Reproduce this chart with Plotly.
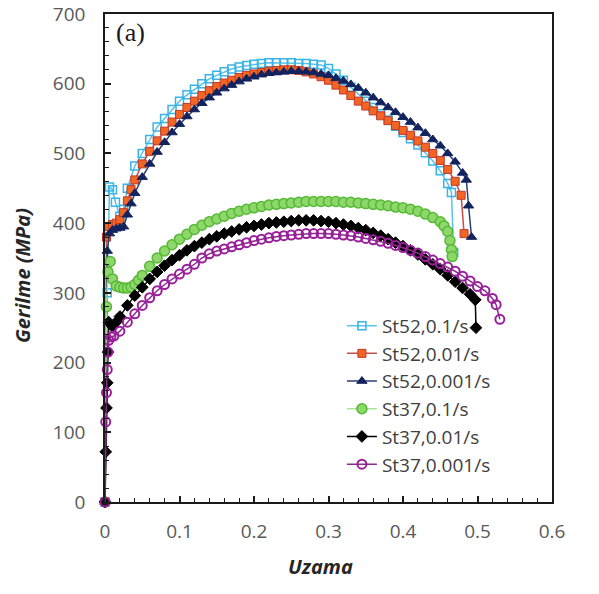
import plotly.graph_objects as go

# ---------------- data ----------------
st52_01_x = [0, 0.003, 0.006, 0.01, 0.014, 0.02, 0.025, 0.03, 0.04, 0.05, 0.06, 0.07, 0.08, 0.09, 0.10,
             0.11, 0.12, 0.13, 0.14, 0.15, 0.16, 0.17, 0.18, 0.19, 0.20, 0.21, 0.22, 0.23, 0.24, 0.25,
             0.26, 0.27, 0.28, 0.29, 0.30, 0.31, 0.32, 0.33, 0.34, 0.35, 0.36, 0.37, 0.38, 0.39, 0.40,
             0.41, 0.42, 0.43, 0.44, 0.45, 0.46, 0.465, 0.468]
st52_01_y = [0, 300, 452, 448, 430, 410, 420, 450, 482, 500, 520, 538, 550, 563, 575,
             584, 592, 600, 607, 612, 617, 621, 624, 626, 628, 629, 630, 630, 630, 630,
             629, 629, 628, 627, 622, 614, 605, 595, 585, 575, 566, 557, 548, 539, 530,
             521, 512, 501, 489, 475, 457, 444, 358]

st52_001_x = [0, 0.002, 0.005, 0.01, 0.015, 0.02, 0.025, 0.03, 0.035, 0.04, 0.05, 0.06, 0.07, 0.08, 0.09, 0.10,
              0.11, 0.12, 0.13, 0.14, 0.15, 0.16, 0.17, 0.18, 0.19, 0.20, 0.21, 0.22, 0.23, 0.24, 0.25,
              0.26, 0.27, 0.28, 0.29, 0.30, 0.31, 0.32, 0.33, 0.34, 0.35, 0.36, 0.37, 0.38, 0.39, 0.40,
              0.41, 0.42, 0.43, 0.44, 0.45, 0.46, 0.47, 0.478, 0.482]
st52_001_y = [0, 380, 395, 398, 400, 405, 415, 432, 448, 462, 485, 503, 518, 532, 545, 556,
              566, 575, 583, 590, 596, 601, 605, 609, 612, 614, 616, 618, 619, 620, 620,
              619, 617, 614, 610, 605, 598, 591, 583, 575, 568, 561, 554, 547, 540, 533,
              526, 518, 509, 500, 490, 477, 460, 440, 385]

st52_0001_x = [0, 0.003, 0.006, 0.01, 0.015, 0.02, 0.025, 0.03, 0.035, 0.04, 0.05, 0.06, 0.07, 0.08, 0.09, 0.10,
               0.11, 0.12, 0.13, 0.14, 0.15, 0.16, 0.17, 0.18, 0.19, 0.20, 0.21, 0.22, 0.23, 0.24, 0.25,
               0.26, 0.27, 0.28, 0.29, 0.30, 0.31, 0.32, 0.33, 0.34, 0.35, 0.36, 0.37, 0.38, 0.39, 0.40,
               0.41, 0.42, 0.43, 0.44, 0.45, 0.46, 0.47, 0.48, 0.485, 0.488, 0.492]
st52_0001_y = [0, 360, 385, 390, 392, 393, 395, 412, 428, 443, 466, 485, 502, 516, 530, 542,
               553, 563, 572, 580, 587, 593, 598, 603, 607, 610, 613, 615, 616, 617, 618,
               618, 617, 616, 614, 612, 608, 604, 599, 594, 587, 580, 573, 566, 559, 552,
               545, 537, 529, 520, 511, 500, 488, 472, 462, 425, 380]

st37_01_x = [0, 0.002, 0.004, 0.007, 0.01, 0.015, 0.02, 0.025, 0.03, 0.035, 0.04, 0.045, 0.05, 0.06, 0.07,
             0.08, 0.09, 0.10, 0.11, 0.12, 0.13, 0.14, 0.15, 0.16, 0.17, 0.18, 0.19, 0.20, 0.21, 0.22,
             0.23, 0.24, 0.25, 0.26, 0.27, 0.28, 0.29, 0.30, 0.31, 0.32, 0.33, 0.34, 0.35, 0.36, 0.37,
             0.38, 0.39, 0.40, 0.41, 0.42, 0.43, 0.44, 0.45, 0.455, 0.46, 0.463, 0.465, 0.466]
st37_01_y = [0, 280, 330, 345, 320, 310, 308, 307, 307, 308, 312, 318, 325, 338, 350,
             360, 369, 377, 384, 391, 397, 402, 406, 410, 414, 417, 420, 422, 424, 426,
             427, 428, 429, 430, 431, 431, 431, 431, 431, 430, 430, 429, 428, 427, 426,
             425, 423, 422, 420, 417, 413, 408, 402, 396, 388, 375, 362, 352]

st37_001_x = [0, 0.001, 0.002, 0.003, 0.004, 0.005, 0.01, 0.015, 0.02, 0.03, 0.04, 0.05, 0.06, 0.07, 0.08,
              0.09, 0.10, 0.11, 0.12, 0.13, 0.14, 0.15, 0.16, 0.17, 0.18, 0.19, 0.20, 0.21, 0.22, 0.23,
              0.24, 0.25, 0.26, 0.27, 0.28, 0.29, 0.30, 0.31, 0.32, 0.33, 0.34, 0.35, 0.36, 0.37, 0.38,
              0.39, 0.40, 0.41, 0.42, 0.43, 0.44, 0.45, 0.46, 0.47, 0.48, 0.49, 0.497, 0.498]
st37_001_y = [0, 72, 135, 171, 215, 258, 252, 258, 266, 282, 296, 308, 320, 330, 339,
              347, 354, 361, 367, 372, 377, 381, 385, 388, 391, 394, 396, 398, 400, 401,
              402, 403, 404, 404, 404, 403, 402, 400, 398, 396, 393, 390, 386, 382, 377,
              372, 367, 361, 355, 348, 341, 334, 325, 316, 307, 298, 290, 250]

st37_0001_x = [0, 0.001, 0.002, 0.003, 0.004, 0.005, 0.008, 0.012, 0.02, 0.03, 0.04, 0.05, 0.06, 0.07, 0.08,
               0.09, 0.10, 0.11, 0.12, 0.13, 0.14, 0.15, 0.16, 0.17, 0.18, 0.19, 0.20, 0.21, 0.22, 0.23,
               0.24, 0.25, 0.26, 0.27, 0.28, 0.29, 0.30, 0.31, 0.32, 0.33, 0.34, 0.35, 0.36, 0.37, 0.38,
               0.39, 0.40, 0.41, 0.42, 0.43, 0.44, 0.45, 0.46, 0.47, 0.48, 0.49, 0.50, 0.51, 0.52, 0.525, 0.53]
st37_0001_y = [0, 115, 157, 190, 215, 232, 237, 238, 245, 258, 270, 282, 293, 303, 312,
               320, 327, 334, 341, 350, 356, 360, 363, 366, 369, 372, 375, 377, 379, 381,
               382, 383, 384, 385, 385, 385, 385, 384, 383, 382, 380, 378, 376, 374, 371,
               368, 365, 361, 357, 352, 347, 342, 337, 331, 324, 317, 309, 303, 292, 283, 262]

x_ticks = [0, 0.1, 0.2, 0.3, 0.4, 0.5, 0.6]
x_tick_labels = ["0", "0.1", "0.2", "0.3", "0.4", "0.5", "0.6"]
y_ticks = [0, 100, 200, 300, 400, 500, 600, 700]
y_tick_labels = ["0", "100", "200", "300", "400", "500", "600", "700"]

# ---------------- figure ----------------
series = [
    ("St52,0.1/s", st52_01_x, st52_01_y, "#5BC2EA",
     dict(symbol="square-open", size=8, color="#38B4E6", line=dict(width=1.5, color="#38B4E6"))),
    ("St52,0.01/s", st52_001_x, st52_001_y, "#C0504D",
     dict(symbol="square", size=8, color="#F26522", line=dict(width=1, color="#C0392B"))),
    ("St52,0.001/s", st52_0001_x, st52_0001_y, "#2A3F75",
     dict(symbol="triangle-up", size=9, color="#13235E", line=dict(width=1, color="#13235E"))),
    ("St37,0.1/s", st37_01_x, st37_01_y, "#A8E59A",
     dict(symbol="circle", size=10, color="#8ED86B", line=dict(width=1.5, color="#55B935"))),
    ("St37,0.01/s", st37_001_x, st37_001_y, "#000000",
     dict(symbol="diamond", size=9, color="#000000", line=dict(width=1, color="#000000"))),
    ("St37,0.001/s", st37_0001_x, st37_0001_y, "#8E2A8E",
     dict(symbol="circle-open", size=9, color="#9A1F9A", line=dict(width=2, color="#9A1F9A"))),
]

fig = go.Figure()
for name, xs, ys, lc, mk in series:
    fig.add_trace(go.Scatter(
        x=xs, y=ys, name=name, mode="lines+markers",
        line=dict(color=lc, width=1.5), marker=mk, cliponaxis=False,
    ))

tickfont = dict(family="Open Sans", size=19, color="#595959")
titlefont = dict(family="Open Sans", size=20, color="#262626")
fig.update_layout(
    width=599, height=594,
    margin=dict(l=105, r=47, t=14, b=92, autoexpand=False),
    plot_bgcolor="white", paper_bgcolor="white",
    showlegend=True,
    legend=dict(x=0.53, y=0.40, xanchor="left", yanchor="top",
                bgcolor="rgba(0,0,0,0)", font=dict(family="Open Sans", size=19, color="#404040"),
                tracegroupgap=0),
    xaxis=dict(
        range=[0, 0.6], tickvals=x_ticks, ticktext=x_tick_labels,
        showgrid=False, zeroline=False, showline=True, linecolor="#1a1a1a", linewidth=1.5,
        mirror=True, ticks="inside", ticklen=6, tickcolor="#1a1a1a", tickwidth=1.5,
        minor=dict(dtick=0.02, ticks="inside", ticklen=4, tickcolor="#1a1a1a", tickwidth=1),
        tickfont=tickfont, ticklabelstandoff=11, ticklabeloverflow="allow",
    ),
    yaxis=dict(
        range=[0, 700], tickvals=y_ticks, ticktext=y_tick_labels,
        showgrid=False, zeroline=False, showline=True, linecolor="#1a1a1a", linewidth=1.5,
        mirror=True, ticks="inside", ticklen=6, tickcolor="#1a1a1a", tickwidth=1.5,
        minor=dict(dtick=20, ticks="inside", ticklen=4, tickcolor="#1a1a1a", tickwidth=1),
        tickfont=tickfont, ticklabelstandoff=14, ticklabeloverflow="allow",
    ),
    annotations=[
        dict(text="(a)", x=0.02, y=0.995, xref="paper", yref="paper",
             xanchor="left", yanchor="top", showarrow=False,
             font=dict(family="Liberation Serif", size=26, color="#1a1a1a")),
        dict(text="<b><i>Uzama</i></b>", x=0.483, y=-0.133, xref="paper", yref="paper",
             xanchor="center", yanchor="middle", showarrow=False, font=titlefont),
        dict(text="<b><i>Gerilme (MPa)</i></b>", x=-0.186, y=0.465, xref="paper", yref="paper",
             xanchor="center", yanchor="middle", textangle=-90, showarrow=False, font=titlefont),
    ],
)

# remove the browser's default 8px body margin so the figure sits at the page origin
fig.write_html("out.html", config={"displayModeBar": False},
               post_script="document.body.style.margin='0';")
